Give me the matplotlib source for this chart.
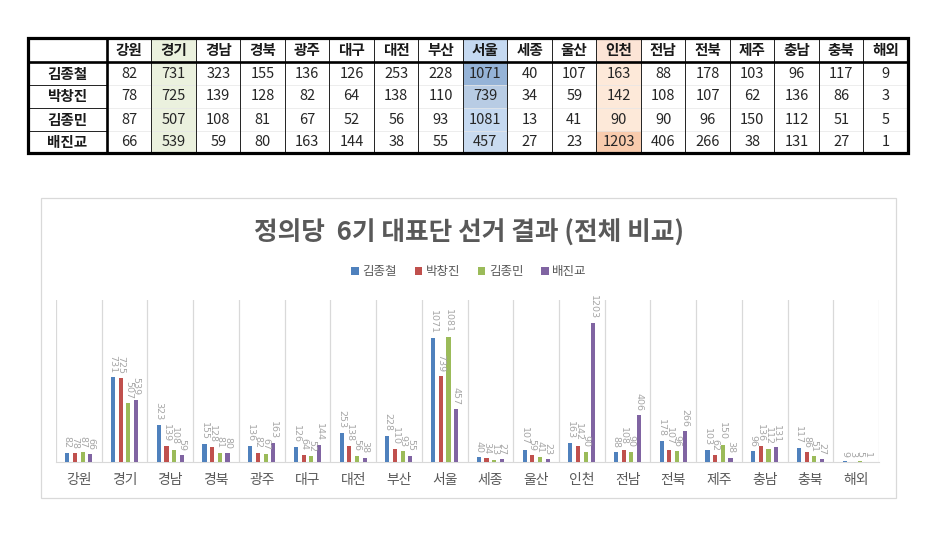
import matplotlib
matplotlib.use("Agg")
import matplotlib.pyplot as plt
from matplotlib.patches import Rectangle
import numpy as np

plt.rcParams['font.family'] = ['Noto Sans CJK KR', 'DejaVu Sans']

regions = ["강원", "경기", "경남", "경북", "광주", "대구", "대전", "부산", "서울",
           "세종", "울산", "인천", "전남", "전북", "제주", "충남", "충북", "해외"]
candidates = ["김종철", "박창진", "김종민", "배진교"]
kim_jc = [82, 731, 323, 155, 136, 126, 253, 228, 1071, 40, 107, 163, 88, 178, 103, 96, 117, 9]
park_cj = [78, 725, 139, 128, 82, 64, 138, 110, 739, 34, 59, 142, 108, 107, 62, 136, 86, 3]
kim_jm = [87, 507, 108, 81, 67, 52, 56, 93, 1081, 13, 41, 90, 90, 96, 150, 112, 51, 5]
bae_jg = [66, 539, 59, 80, 163, 144, 38, 55, 457, 27, 23, 1203, 406, 266, 38, 131, 27, 1]
series = [kim_jc, park_cj, kim_jm, bae_jg]
colors = ["#4F81BD", "#C0504D", "#9BBB59", "#8064A2"]
title = "정의당  6기 대표단 선거 결과 (전체 비교)"

W, H = 949, 540
fig = plt.figure(figsize=(W / 100, H / 100), dpi=100)
fig.patch.set_facecolor("white")

# ---------- table (pixel coordinates) ----------
axt = fig.add_axes([0, 0, 1, 1])
axt.set_xlim(0, W)
axt.set_ylim(H, 0)
axt.axis("off")

x0, name_w, col_w = 28, 79, 44.5
rows_y = [38, 61.5, 84.5, 107.5, 130.5, 153]
ncol = len(regions)
col_x = [x0, x0 + name_w] + [x0 + name_w + col_w * (i + 1) for i in range(ncol)]
x_end = col_x[-1]

green = "#EBF1DE"
fills = {}
ig, iseoul, iinch = regions.index("경기"), regions.index("서울"), regions.index("인천")
for r in range(5):
    fills[(r, ig)] = green
fills[(0, iseoul)] = "#C5D9F1"
for r, c in zip(range(1, 5), ["#95B3D7", "#B8CCE4", "#C5D9F1", "#C9DBF0"]):
    fills[(r, iseoul)] = c
fills[(0, iinch)] = "#FCE4D6"
for r in range(1, 5):
    fills[(r, iinch)] = "#FDE9D9"
fills[(4, iinch)] = "#F8CBAD"

for (r, c), col in fills.items():
    axt.add_patch(Rectangle((col_x[c + 1], rows_y[r]), col_w, rows_y[r + 1] - rows_y[r],
                            facecolor=col, edgecolor="none", zorder=1))

for c, reg in enumerate(regions):
    cx = (col_x[c + 1] + col_x[c + 2]) / 2
    axt.text(cx, (rows_y[0] + rows_y[1]) / 2 + 0.5, reg, ha="center", va="center",
             fontsize=10.5, fontweight="bold", color="#1a1a1a", zorder=3)
for r, (name, vals) in enumerate(zip(candidates, series)):
    cy = (rows_y[r + 1] + rows_y[r + 2]) / 2 + 0.5
    axt.text((col_x[0] + col_x[1]) / 2, cy, name, ha="center", va="center",
             fontsize=10.5, fontweight="bold", color="#1a1a1a", zorder=3)
    for c, v in enumerate(vals):
        cx = (col_x[c + 1] + col_x[c + 2]) / 2
        axt.text(cx, cy, str(v), ha="center", va="center", fontsize=10.5,
                 color="#262626", zorder=3)

thin, thick = 0.7, 1.9
for x in col_x[2:-1]:
    axt.plot([x, x], [rows_y[0], rows_y[-1]], color="#222222", lw=thin, zorder=4)
axt.plot([col_x[1], col_x[1]], [rows_y[0], rows_y[-1]], color="black", lw=thick, zorder=5)
for y in rows_y[2:-1]:
    axt.plot([col_x[0], col_x[1]], [y, y], color="#222222", lw=thin, zorder=4)
    axt.plot([col_x[1], x_end], [y, y], color="#E6E6E6", lw=0.5, zorder=2)
axt.plot([col_x[0], x_end], [rows_y[1], rows_y[1]], color="black", lw=thick, zorder=5)
axt.add_patch(Rectangle((col_x[0], rows_y[0]), x_end - col_x[0], rows_y[-1] - rows_y[0],
                        facecolor="none", edgecolor="black", lw=thick + 0.4, zorder=6))

# chart border
axt.add_patch(Rectangle((41, 198), 855, 300, facecolor="none", edgecolor="#D9D9D9",
                        lw=0.9, zorder=1))

# ---------- chart ----------
pl, pr, pt, pb = 56, 879, 300, 462
ax = fig.add_axes([pl / W, 1 - pb / H, (pr - pl) / W, (pb - pt) / H])
x = np.arange(ncol)
bw = 0.09
offs = [-0.252, -0.084, 0.084, 0.252]
for vals, col, off, name in zip(series, colors, offs, candidates):
    ax.bar(x + off, vals, width=bw, color=col, label=name, zorder=3)
    for xi, v in zip(x + off, vals):
        ax.annotate(str(v), (xi, v), xytext=(0, 3), textcoords="offset points",
                    rotation=270, ha="center", va="bottom", fontsize=6.8,
                    color="#A6A6A6", family=["DejaVu Sans"], zorder=4)
ax.set_xlim(-0.5, ncol - 0.5)
ax.set_ylim(0, 1400)
for b in np.arange(-0.5, ncol, 1.0):
    ax.axvline(b, color="#D9D9D9", lw=0.9, zorder=1)
ax.set_yticks([])
ax.set_xticks(x)
ax.set_xticklabels(regions, fontsize=10, color="#595959")
ax.tick_params(axis="x", length=0, pad=8)
for s in ["top", "right", "left"]:
    ax.spines[s].set_visible(False)
ax.spines["bottom"].set_color("#D9D9D9")
ax.set_facecolor("none")

fig.text(469 / W, 1 - 233 / H, title, ha="center", va="center", fontsize=18.5,
         fontweight="bold", color="#595959")
fig.legend(loc="center", bbox_to_anchor=(469 / W, 1 - 272 / H), ncol=4, frameon=False,
           fontsize=9, handlelength=0.6, handleheight=0.6, handletextpad=0.3,
           columnspacing=1.4, labelcolor="#595959")

fig.savefig("out.png", dpi=100, facecolor="white")
